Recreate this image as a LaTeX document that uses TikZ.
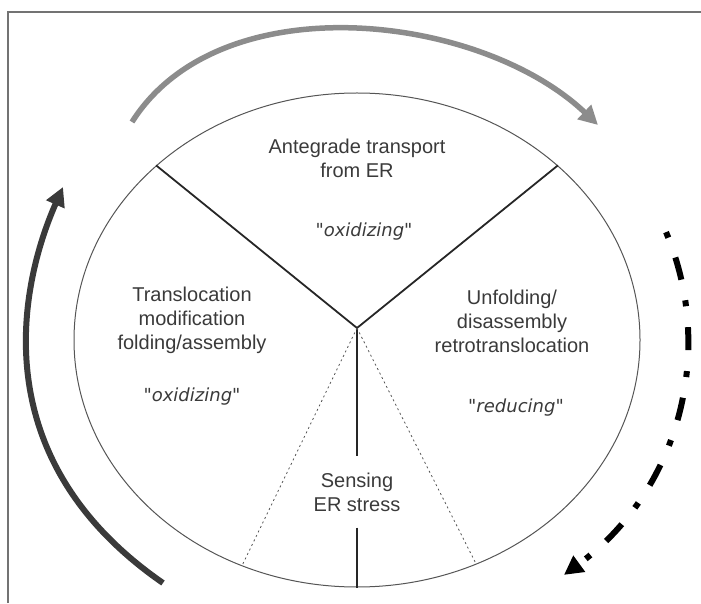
\documentclass[tikz,border=0pt]{standalone}
\usepackage{fontspec}
\setmainfont{Liberation Sans}
\newfontfamily\moodfont{DejaVu Sans}
\usetikzlibrary{arrows.meta,shapes.geometric}
\definecolor{inkgray}{HTML}{3A3A3A}
\definecolor{arrowgray}{HTML}{8C8C8C}
\definecolor{rimgray}{HTML}{555555}
\begin{document}
\begin{tikzpicture}[x=1pt, y=1pt,
  every node/.style={font=\fontsize{20}{24}\selectfont, text=inkgray, align=center},
  moodtext/.style={font=\moodfont\itshape\fontsize{18}{22}\selectfont},
  spoke/.style={line width=1.8pt, draw=black!85},
  dotspoke/.style={line width=0.8pt, draw=rimgray, dash pattern=on 2pt off 3pt},
  cyclearrow/.style={line width=6pt, -{Triangle[length=19pt,width=19pt]}}]
  \useasboundingbox (0,0) rectangle (701,603);
  \draw[line width=1.2pt, draw=black!55] (8,0) -- (8,591) -- (701,591);
  \node[draw=rimgray, line width=1pt, ellipse, minimum width=566pt, minimum height=494pt, inner sep=0pt] (er) at (357,263) {};
  \coordinate (hub) at (357,275);
  \node (antegrade) at (357,445) {Antegrade transport\\from ER};
  \node[moodtext] (topmood) at (364,371) {"oxidizing"};
  \node (translocation) at (192,283) {Translocation\\modification\\folding/assembly};
  \node[moodtext] (leftmood) at (192,206) {"oxidizing"};
  \node (unfolding) at (512,282) {Unfolding/\\disassembly\\retrotranslocation};
  \node[moodtext] (rightmood) at (516,195) {"reducing"};
  \node[inner ysep=16pt] (sensing) at (357,111) {Sensing\\ER stress};
  \draw[spoke] (hub) -- (er.139);
  \draw[spoke] (hub) -- (er.41);
  \draw[spoke] (hub) -- (sensing.north);
  \draw[spoke] (sensing.south) -- (er.south);
  \draw[dotspoke] (hub) -- (er.243);
  \draw[dotspoke] (hub) -- (er.298);
  \draw[cyclearrow, draw=arrowgray, line width=5.5pt] (132,481) .. controls (220,620) and (480,590) .. (598,478);
  \draw[cyclearrow, draw=inkgray] (163,20) .. controls (-25,150) and (25,330) .. (63,416);
  \draw[cyclearrow, draw=black, dash pattern=on 6pt off 21pt on 23pt off 21pt] ([shift={(357,263)}]21:331pt and 301pt) arc[start angle=21, end angle=-51.3, x radius=331pt, y radius=301pt];
\end{tikzpicture}
\end{document}
